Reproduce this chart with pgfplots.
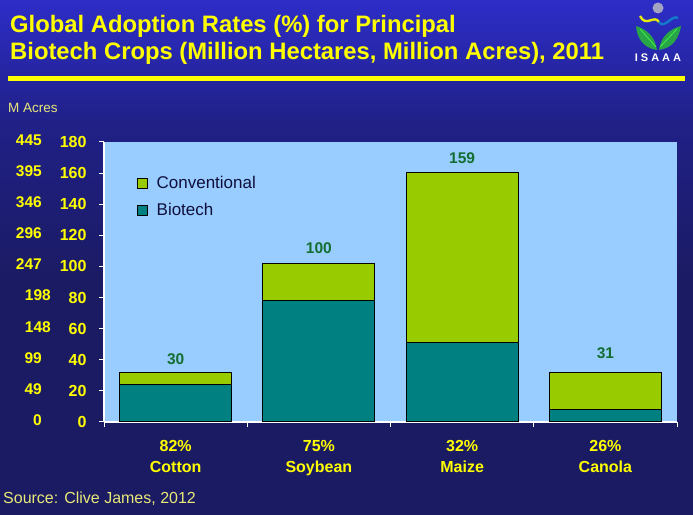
\documentclass[border=0pt]{standalone}
\usepackage{fontspec}
\setmainfont{Liberation Sans}
\usepackage{pgfplots}
\pgfplotsset{compat=1.18}
\definecolor{bgtop}{RGB}{45,45,200}
\definecolor{bgmid}{RGB}{32,32,135}
\definecolor{bgbot}{RGB}{27,27,100}
\definecolor{plotbg}{RGB}{153,204,255}
\definecolor{biotech}{RGB}{0,128,128}
\definecolor{conv}{RGB}{153,204,0}
\definecolor{lbl}{RGB}{20,110,50}
\definecolor{ytext}{RGB}{255,255,0}
\definecolor{paley}{RGB}{232,232,120}
\definecolor{legtext}{RGB}{15,15,60}
\definecolor{leafg}{RGB}{40,165,70}
\pgfdeclareverticalshading{bgshade}{100bp}{color(0bp)=(bgbot); color(25bp)=(bgbot); color(48bp)=(bgbot); color(63bp)=(bgmid); color(75bp)=(bgtop); color(100bp)=(bgtop)}
\newcommand{\fs}[1]{\fontsize{#1}{#1}\selectfont}
\tikzset{
  acres/.style={anchor=east, inner sep=0pt, yshift=2pt, font=\fs{15.5}\bfseries, text=ytext},
  catl/.style={anchor=base, inner sep=0pt, font=\fs{16}\bfseries, text=ytext},
  dlab/.style={font=\fs{15.5}\bfseries, text=lbl},
}
\begin{document}
\begin{tikzpicture}[x=1pt,y=1pt]
\useasboundingbox (0,0) rectangle (693,514);
\shade[shading=bgshade] (0,0) rectangle (693,514);
% title
\node[anchor=base west, inner sep=0pt, font=\fs{23.8}\bfseries, text=ytext] at (10,481) {Global Adoption Rates (\%) for Principal};
\node[anchor=base west, inner sep=0pt, font=\fs{23.8}\bfseries, text=ytext] at (10,454) {Biotech Crops (Million Hectares, Million Acres), 2011};
\fill[ytext] (8,433) rectangle (685,438);
% logo
\fill[blue!20!gray!60] (658,506) circle (5.5);
\draw[yellow!90!green, line width=2.4pt] (640,498) .. controls (646,486) and (654,500) .. (659,492);
\draw[cyan!60!blue, line width=2.4pt] (659,492) .. controls (664,484) and (672,500) .. (678,496);
\fill[leafg] (657,464) .. controls (643,466) and (637,476) .. (636,488) .. controls (646,485) and (655,478) .. (657,464) -- cycle;
\fill[leafg] (659,464) .. controls (673,466) and (679,476) .. (681,488) .. controls (670,485) and (661,478) .. (659,464) -- cycle;
\draw[green!70!white, line width=0.6pt] (656,467) -- (640,485);
\draw[green!70!white, line width=0.6pt] (660,467) -- (677,485);
\node[text=white, font=\fs{11}\bfseries, inner sep=0pt] at (658,456) {I\hspace{3pt}S\hspace{3pt}A\hspace{3pt}A\hspace{3pt}A};
% side texts
\node[anchor=base west, inner sep=0pt, font=\fs{13.5}, text=paley] at (8,401) {M Acres};
\node[anchor=base west, inner sep=0pt, font=\fs{16}, text=paley] at (3,11) {Source: Clive James, 2012};
\begin{axis}[
  at={(104pt,92pt)}, anchor=south west,
  scale only axis, width=573pt, height=280pt,
  xmin=-0.5, xmax=3.5, ymin=0, ymax=180,
  ybar stacked, bar width=112pt,
  clip=false,
  axis background/.style={fill=plotbg},
  axis x line*=bottom, axis y line*=left,
  axis line style={white, line width=1.5pt},
  tick align=outside, major tick length=5pt,
  tick style={white, line width=1pt},
  xtick={-0.5,0.5,1.5,2.5,3.5}, xticklabels={},
  ytick={0,20,...,180},
  /pgf/number format/assume math mode=true,
  yticklabel style={font=\fs{16}\bfseries, text=ytext, xshift=-9pt},
  legend style={at={(rel axis cs:0.057,0.885)}, anchor=north west, draw=none, fill=none,
    font=\fs{17}, text=legtext, row sep=9pt, inner sep=0pt,
    /tikz/every odd column/.append style={column sep=7pt}},
  legend cell align=left,
  reverse legend,
  legend image code/.code={\draw[#1, line width=0.8pt] (0pt,-5pt) rectangle (10pt,5pt);},
]
\addplot[fill=biotech, draw=black, line width=1pt] coordinates {(0,24.0) (1,77.8) (2,51.2) (3,8.2)};
\addplot[fill=conv, draw=black, line width=1pt] coordinates {(0,7.7) (1,24.4) (2,109.5) (3,23.5)};
\legend{Biotech, Conventional}
% data labels
\node[dlab] at (axis cs:0,40.5) {30};
\node[dlab] at (axis cs:1,111.9) {100};
\node[dlab] at (axis cs:2,169.7) {159};
\node[dlab] at (axis cs:3,44.5) {31};
% acres column
\node[acres, xshift=-62pt] at (axis cs:-0.5,180) {445};
\node[acres, xshift=-62pt] at (axis cs:-0.5,160) {395};
\node[acres, xshift=-62pt] at (axis cs:-0.5,140) {346};
\node[acres, xshift=-62pt] at (axis cs:-0.5,120) {296};
\node[acres, xshift=-62pt] at (axis cs:-0.5,100) {247};
\node[acres, xshift=-53pt] at (axis cs:-0.5,80) {198};
\node[acres, xshift=-53pt] at (axis cs:-0.5,60) {148};
\node[acres, xshift=-62pt] at (axis cs:-0.5,40) {99};
\node[acres, xshift=-62pt] at (axis cs:-0.5,20) {49};
\node[acres, xshift=-62pt] at (axis cs:-0.5,0) {0};
% category labels
\node[catl, yshift=-29.5pt] at (axis cs:0,0) {82\%};
\node[catl, yshift=-50.5pt] at (axis cs:0,0) {Cotton};
\node[catl, yshift=-29.5pt] at (axis cs:1,0) {75\%};
\node[catl, yshift=-50.5pt] at (axis cs:1,0) {Soybean};
\node[catl, yshift=-29.5pt] at (axis cs:2,0) {32\%};
\node[catl, yshift=-50.5pt] at (axis cs:2,0) {Maize};
\node[catl, yshift=-29.5pt] at (axis cs:3,0) {26\%};
\node[catl, yshift=-50.5pt] at (axis cs:3,0) {Canola};
\end{axis}
\end{tikzpicture}
\end{document}
